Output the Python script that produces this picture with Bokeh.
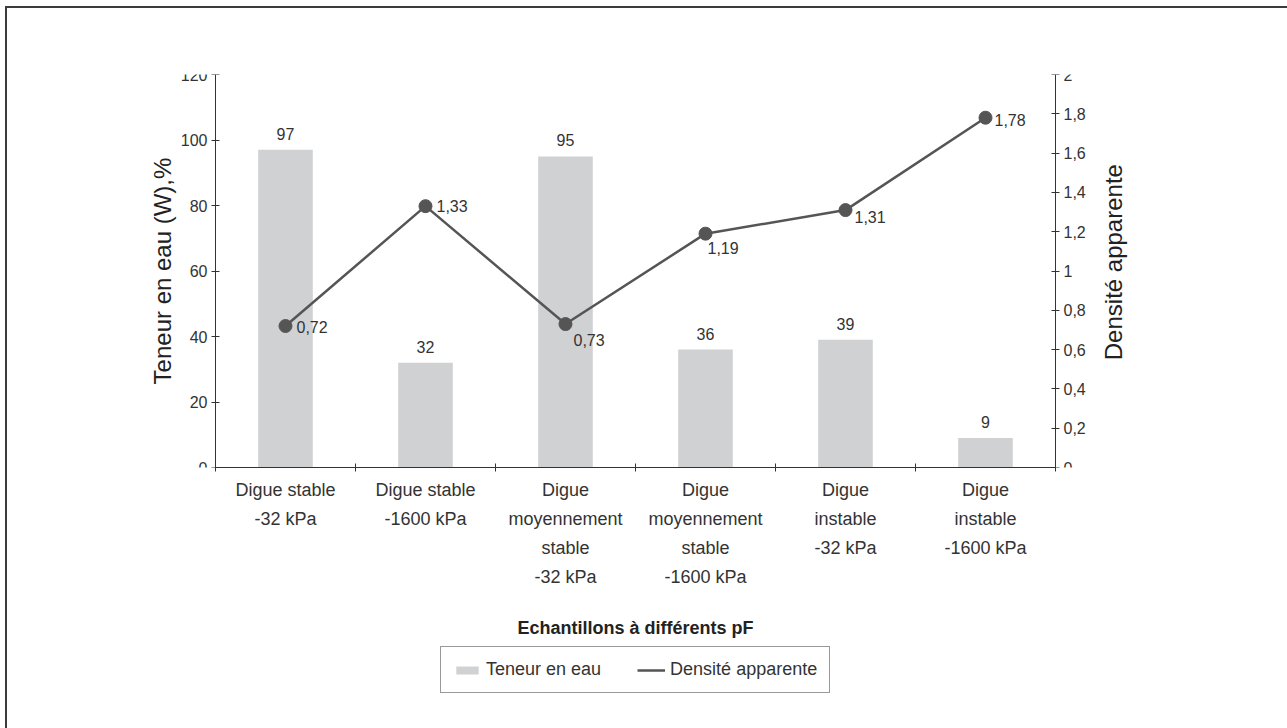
import math
from bokeh.plotting import figure
from bokeh.layouts import column
from bokeh.models import (Range1d, LinearAxis, FixedTicker, CustomJSTickFormatter,
                          Legend, LegendItem, ColumnDataSource)
from bokeh.core.properties import value
from bokeh.embed import file_html
from bokeh.resources import INLINE

# ---- data ----
categories = ["Digue stable\n-32 kPa", "Digue stable\n-1600 kPa",
              "Digue\nmoyennement\nstable\n-32 kPa", "Digue\nmoyennement\nstable\n-1600 kPa",
              "Digue\ninstable\n-32 kPa", "Digue\ninstable\n-1600 kPa"]
teneur = [97, 32, 95, 36, 39, 9]
densite = [0.72, 1.33, 0.73, 1.19, 1.31, 1.78]
densite_labels = ["0,72", "1,33", "0,73", "1,19", "1,31", "1,78"]
left_ticks = [0, 20, 40, 60, 80, 100, 120]
right_ticks = [0, 0.2, 0.4, 0.6, 0.8, 1.0, 1.2, 1.4, 1.6, 1.8, 2.0]
series_names = ["Teneur en eau", "Densité apparente"]
right_title = "Densité apparente"

# ---- styles ----
label_dx = [11, 11, 8, 2, 9, 9]
label_dy = [1, 0, 16, 14, 7, 2]
FONT = "Liberation Sans"
DARK = "#333333"
LINE = "#555555"
BAR = "#d0d1d3"
PAD = 0.5357          # extra x room on each side of the categories (frame kept symmetric)

n = len(categories)
xc = [i + 0.5 for i in range(n)]
src = ColumnDataSource(dict(x=xc, t=teneur, d=densite, tl=[str(v) for v in teneur],
                            dl=densite_labels, dx=label_dx, dy=label_dy))

p = figure(width=1280, height=636, output_backend="svg", toolbar_location=None,
           x_range=Range1d(-PAD, n + PAD), y_range=Range1d(0, 120),
           min_border_left=133, min_border_right=157, min_border_top=66, min_border_bottom=177)
p.outline_line_color = None
p.grid.visible = False
p.background_fill_color = "white"
p.border_fill_color = "white"

p.extra_y_ranges = {"d": Range1d(0, 2)}

p.vbar(x="x", top="t", width=0.39, source=src, fill_color=BAR, line_color=None)
p.line(x="x", y="d", source=src, y_range_name="d", line_color=LINE, line_width=2.5)
p.scatter(x="x", y="d", source=src, y_range_name="d", size=13, fill_color=LINE, line_color=LINE)

p.text(x="x", y="t", text="tl", source=src, text_align="center", text_baseline="middle",
       y_offset=-16, text_font=value(FONT), text_font_size="16px", text_color=DARK)
p.text(x="x", y="d", text="dl", source=src, y_range_name="d", text_align="left",
       text_baseline="middle", x_offset="dx", y_offset="dy",
       text_font=value(FONT), text_font_size="16px", text_color=DARK)

# right-hand axis title, reading bottom-to-top, centred beside the right axis
p.text(x=[n + 0.414], y=[62.7], text=[right_title], angle=math.pi / 2,
       text_align="center", text_baseline="middle",
       text_font=value(FONT), text_font_size="24px", text_color="#222222")

# x axis: labels at centres, ticks at boundaries
xa = p.xaxis[0]
xa.bounds = (0, n)
xa.ticker = FixedTicker(ticks=xc, minor_ticks=list(range(n + 1)))
xa.major_label_overrides = {x: c for x, c in zip(xc, categories)}
xa.major_tick_line_color = None
xa.minor_tick_in = 4
xa.minor_tick_out = 4
xa.minor_tick_line_color = DARK
xa.axis_line_color = DARK
xa.major_label_text_font = FONT
xa.major_label_text_font_size = "18px"
xa.major_label_text_color = DARK
xa.major_label_text_line_height = 1.45
xa.major_label_standoff = 6
xa.axis_label = "Echantillons à différents pF"
xa.axis_label_text_font = FONT
xa.axis_label_text_font_size = "18px"
xa.axis_label_text_font_style = "bold"
xa.axis_label_text_color = "#222222"
xa.axis_label_standoff = 28

ya = p.yaxis[0]
ya.fixed_location = 0
ya.ticker = FixedTicker(ticks=left_ticks)
ya.minor_tick_line_color = None
ya.major_tick_in = 4
ya.major_tick_out = 4
ya.major_tick_line_color = DARK
ya.axis_line_color = DARK
ya.major_label_text_font = FONT
ya.major_label_text_font_size = "16px"
ya.major_label_text_color = DARK
ya.major_label_standoff = 4
ya.axis_label = "Teneur en eau (W),%"
ya.axis_label_text_font = FONT
ya.axis_label_text_font_size = "24px"
ya.axis_label_text_font_style = "normal"
ya.axis_label_text_color = "#222222"
ya.axis_label_standoff = 2

ra = LinearAxis(y_range_name="d", ticker=FixedTicker(ticks=right_ticks), fixed_location=n,
                formatter=CustomJSTickFormatter(code="""
                    var s = (Math.round(tick * 10) / 10).toString();
                    return s.replace('.', ',');
                """))
ra.minor_tick_line_color = None
ra.major_tick_in = 4
ra.major_tick_out = 4
ra.major_tick_line_color = DARK
ra.axis_line_color = DARK
ra.major_label_text_font = FONT
ra.major_label_text_font_size = "16px"
ra.major_label_text_color = DARK
ra.major_label_standoff = 4
p.add_layout(ra, "right")

# ---- legend strip ----
lg = figure(width=1280, height=84, output_backend="svg", toolbar_location=None,
            x_range=Range1d(0, 1), y_range=Range1d(0, 1),
            x_axis_type=None, y_axis_type=None, min_border=0)
lg.outline_line_color = None
lg.grid.visible = False
lg_bar = lg.vbar(x=[-10], top=[-10], width=0.1, fill_color=BAR, line_color=None)
lg_line = lg.line(x=[-10, -9], y=[-10, -10], line_color=LINE, line_width=2.5)
legend = Legend(items=[LegendItem(label=series_names[0], renderers=[lg_bar]),
                       LegendItem(label=series_names[1], renderers=[lg_line])],
                orientation="horizontal", location=(300, 35),
                border_line_color=DARK, border_line_width=1, background_fill_color="white",
                padding=12, spacing=36, label_standoff=5, glyph_width=28, glyph_height=10,
                label_text_font=FONT, label_text_font_size="18px", label_text_color=DARK,
                margin=0)
lg.add_layout(legend, "center")

layout = column(p, lg, spacing=0,
                styles={"border-left": "2px solid #3c3c3c", "border-top": "2px solid #3c3c3c",
                        "margin-left": "5px", "margin-top": "6px"})

open("out.html", "w").write(file_html(layout, INLINE))
